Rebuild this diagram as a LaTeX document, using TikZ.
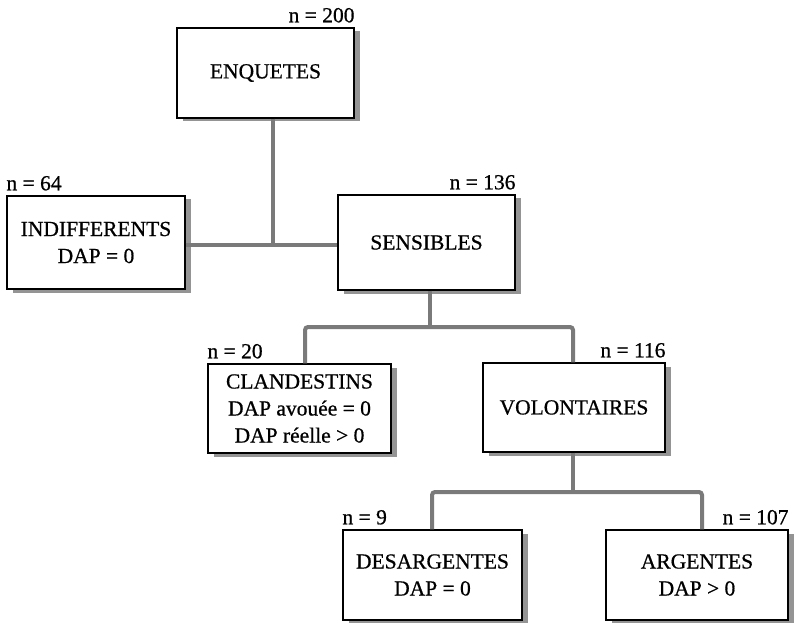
\documentclass[tikz,border=0pt]{standalone}
\usepackage{fontspec}
\setmainfont[FakeBold=0.7]{Liberation Serif}
\usetikzlibrary{shadows}
\begin{document}
\begin{tikzpicture}[x=1pt,y=-1pt,
  txt/.style={font=\fontsize{21.5}{27}\selectfont},
  box/.style={txt, draw=black, line width=1.4pt, fill=white, align=center, inner sep=0pt,
    drop shadow={shadow xshift=6pt, shadow yshift=-3.5pt, fill=black!42, opacity=1}},
  lab/.style={txt, inner sep=0pt},
  conn/.style={draw=black!52, line width=4pt, rounded corners=3pt},
]
\useasboundingbox (0,0) rectangle (796,623);

% boxes
\node[box, minimum width=177pt, minimum height=90pt] (enq) at (265.5,73) {ENQUETES};
\node[box, minimum width=178pt, minimum height=93pt] (ind) at (96,242.5) {INDIFFERENTS\\DAP = 0};
\node[box, minimum width=177pt, minimum height=95pt] (sen) at (426.5,242.5) {SENSIBLES};
\node[box, minimum width=183pt, minimum height=89pt] (cla) at (299.5,408.5) {CLANDESTINS\\DAP avouée = 0\\DAP réelle {>} 0};
\node[box, minimum width=182pt, minimum height=89pt] (vol) at (574,407.5) {VOLONTAIRES};
\node[box, minimum width=179pt, minimum height=90pt] (des) at (432.5,575) {DESARGENTES\\DAP = 0};
\node[box, minimum width=182pt, minimum height=90pt] (arg) at (697,575) {ARGENTES\\DAP {>} 0};

% labels
\node[lab, anchor=base east] (l200) at ([yshift=5pt]enq.north east) {n = 200};
\node[lab, anchor=base west] (l64) at ([yshift=5pt]ind.north west) {n = 64};
\node[lab, anchor=base east] (l136) at ([yshift=5pt]sen.north east) {n = 136};
\node[lab, anchor=base west] (l20) at ([yshift=5pt]cla.north west) {n = 20};
\node[lab, anchor=base east] (l116) at ([yshift=5pt]vol.north east) {n = 116};
\node[lab, anchor=base west] (l9) at ([yshift=5pt]des.north west) {n = 9};
\node[lab, anchor=base east] (l107) at ([yshift=5pt]arg.north east) {n = 107};

% junctions
\coordinate (j1) at (273,245);
\coordinate (j2) at (430,327);
\coordinate (j3) at (573,492);

% connectors
\draw[conn] ([xshift=7.5pt]enq.south) -- (j1);
\draw[conn] (ind.east |- j1) -- (sen.west |- j1);
\draw[conn] ([xshift=3.5pt]sen.south) -- (j2);
\draw[conn] ([xshift=5.5pt]cla.north) |- (j2) -| ([xshift=-1pt]vol.north);
\draw[conn] ([xshift=-1pt]vol.south) -- (j3);
\draw[conn] ([xshift=-0.5pt]des.north) |- (j3) -| ([xshift=5pt]arg.north);
\end{tikzpicture}
\end{document}
